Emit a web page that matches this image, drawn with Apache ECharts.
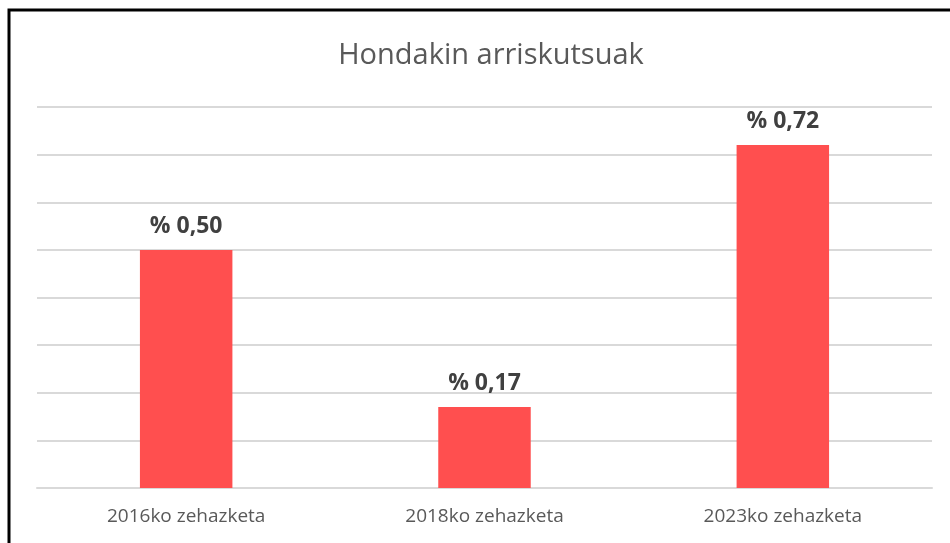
<!DOCTYPE html>
<html>
<head>
<meta charset="utf-8">
<script src="https://cdn.jsdelivr.net/npm/echarts@6/dist/echarts.min.js"></script>
<style>
  html, body { margin: 0; padding: 0; background: #fff; }
  #chart { width: 950px; height: 543px; }
</style>
</head>
<body>
<div id="chart"></div>
<script>
// datuak
var categories = ["2016ko zehazketa", "2018ko zehazketa", "2023ko zehazketa"];
var values = [0.50, 0.17, 0.72];
var yMin = 0, yMax = 0.8, yStep = 0.1;

var myChart = echarts.init(document.getElementById("chart"));
myChart.setOption({
  backgroundColor: "#fff",
  animation: false,
  title: {
    text: "Hondakin arriskutsuak",
    left: 486,
    top: 36,
    textAlign: "center",
    textStyle: {
      fontFamily: "Open Sans",
      fontWeight: "normal",
      fontSize: 29,
      color: "#595959"
    }
  },
  // marko beltza (ezker eta goian)
  graphic: [{
    type: "rect",
    shape: { x: 9, y: 10, width: 1000, height: 1000 },
    style: { fill: "none", stroke: "#000", lineWidth: 3 },
    silent: true
  }],
  grid: { left: 37, right: 18, top: 107, bottom: 55 },
  xAxis: {
    type: "category",
    data: categories,
    axisLine: { show: true, lineStyle: { color: "#d9d9d9", width: 2 } },
    axisTick: { show: false },
    axisLabel: {
      margin: 19,
      fontFamily: "Open Sans",
      fontSize: 19,
      color: "#595959"
    }
  },
  yAxis: {
    type: "value",
    min: yMin,
    max: yMax,
    interval: yStep,
    axisLabel: { show: false },
    axisLine: { show: false },
    axisTick: { show: false },
    splitLine: { lineStyle: { color: "#d9d9d9", width: 2 } }
  },
  series: [{
    type: "bar",
    data: values,
    barWidth: "31%",
    itemStyle: { color: "#ff4f4f" },
    label: {
      show: true,
      position: "top",
      distance: 12,
      formatter: function (p) {
        return "% " + p.value.toFixed(2).replace(".", ",");
      },
      fontFamily: "Open Sans",
      fontWeight: "bold",
      fontSize: 23,
      color: "#404040"
    }
  }]
});
</script>
</body>
</html>
